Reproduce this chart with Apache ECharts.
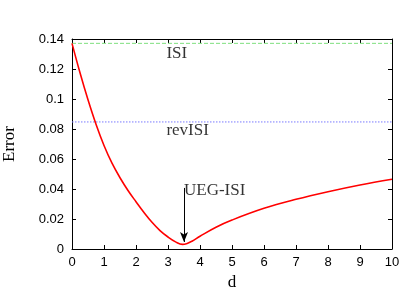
<!DOCTYPE html>
<html>
<head>
<meta charset="utf-8">
<script src="https://cdn.jsdelivr.net/npm/echarts@6/dist/echarts.min.js"></script>
<style>
html,body{margin:0;padding:0;background:#fff;}
#chart{width:415px;height:291px;}
</style>
</head>
<body>
<div id="chart"></div>
<script>
// ---- data ----
var dValues     = [0, 0.25, 0.5, 0.75, 1, 1.25, 1.5, 1.75, 2, 2.25, 2.5, 2.75, 3, 3.25, 3.45, 3.6, 3.75, 4, 4.5, 5, 6, 7, 8, 9, 10];
var errorValues = [0.1371, 0.1175, 0.0995, 0.0832, 0.0690, 0.0572, 0.0475, 0.0390, 0.0315, 0.0243, 0.0178, 0.0123, 0.0080, 0.0046, 0.0031, 0.0037, 0.0052, 0.0085, 0.0145, 0.0193, 0.0271, 0.0331, 0.0382, 0.0427, 0.0465];
var isiLevel    = 0.1371;
var revIsiLevel = 0.0847;
var lineSpanD   = [0, 10];
var annotationNames = ['ISI', 'revISI', 'UEG-ISI'];
var annotationD     = [2.95, 2.95, 3.5];
var annotationErr   = [0.130, 0.0793, 0.039];
var arrowD          = 3.5;
var arrowFrom       = 0.0407;
var arrowTo         = 0.0047;
var xTicks = [0, 1, 2, 3, 4, 5, 6, 7, 8, 9, 10];
var yTicks = [0, 0.02, 0.04, 0.06, 0.08, 0.1, 0.12, 0.14];

var curve = dValues.map(function (d, i) { return [d, errorValues[i]]; });
var annots = annotationNames.map(function (n, i) { return { name: n, value: [annotationD[i], annotationErr[i]] }; });
var isiLine = lineSpanD.map(function (d) { return [d, isiLevel]; });
var revIsiLine = lineSpanD.map(function (d) { return [d, revIsiLevel]; });

var serif = '"Liberation Serif", "DejaVu Serif", serif';
var sans = '"Liberation Sans", Arial, sans-serif';

var chart = echarts.init(document.getElementById('chart'), null, { renderer: 'canvas' });

function baseX(pos, showLabel) {
  return {
    type: 'value', position: pos, min: xTicks[0], max: xTicks[xTicks.length - 1], interval: 1,
    axisLine: { show: true, onZero: false, lineStyle: { color: '#000', width: 1 } },
    axisTick: { show: true, inside: true, length: 4, lineStyle: { color: '#000' } },
    axisLabel: { show: showLabel, color: '#000', fontFamily: sans, fontSize: 13, margin: 7, hideOverlap: false },
    splitLine: { show: false }
  };
}
function baseY(pos, showLabel) {
  return {
    type: 'value', position: pos, min: yTicks[0], max: yTicks[yTicks.length - 1], interval: 0.02,
    axisLine: { show: true, onZero: false, lineStyle: { color: '#000', width: 1 } },
    axisTick: { show: true, inside: true, length: 4, lineStyle: { color: '#000' } },
    axisLabel: { show: showLabel, color: '#000', fontFamily: sans, fontSize: 13, margin: 8, hideOverlap: false,
      formatter: function (v) { return String(+v.toFixed(2)); } },
    splitLine: { show: false }
  };
}

var xBottom = baseX('bottom', true);
xBottom.name = 'd';
xBottom.nameLocation = 'middle';
xBottom.nameGap = 24;
xBottom.nameTextStyle = { fontFamily: serif, fontSize: 17, color: '#000' };
var yLeft = baseY('left', true);
yLeft.name = 'Error';
yLeft.nameLocation = 'middle';
yLeft.nameRotate = 90;
yLeft.nameGap = 54;
yLeft.nameTextStyle = { fontFamily: serif, fontSize: 17, color: '#000' };

var option = {
  animation: false,
  backgroundColor: '#fff',
  grid: { left: 72, right: 23, top: 39, bottom: 42, containLabel: false, outerBoundsMode: 'none' },
  xAxis: [xBottom, baseX('top', false)],
  yAxis: [yLeft, baseY('right', false)],
  series: [
    {
      type: 'line', name: 'ISI', data: isiLine, showSymbol: false, silent: true,
      lineStyle: { color: '#7fe07f', type: [4, 2], width: 1 }, z: 2
    },
    {
      type: 'line', name: 'revISI', data: revIsiLine, showSymbol: false, silent: true,
      lineStyle: { color: '#7a7aff', type: [1.5, 1.5], width: 1 }, z: 2
    },
    {
      type: 'line', name: 'UEG-ISI', data: curve, smooth: 0.4, showSymbol: false,
      lineStyle: { color: '#ff0000', width: 1.6 }, z: 3,
      markLine: {
        silent: true, animation: false,
        label: { show: false },
        symbol: ['none', 'arrow'], symbolSize: [6, 10],
        lineStyle: { color: '#000', type: 'solid', width: 1 },
        data: [
          [ { coord: [arrowD, arrowFrom] }, { coord: [arrowD, arrowTo] } ]
        ]
      }
    },
    {
      type: 'scatter', data: annots, symbolSize: 0, silent: true, z: 4,
      label: {
        show: true, position: [0, 0], align: 'left', verticalAlign: 'middle',
        formatter: '{b}', fontFamily: serif, fontSize: 17, color: '#000'
      }
    }
  ]
};
chart.setOption(option);
</script>
</body>
</html>
